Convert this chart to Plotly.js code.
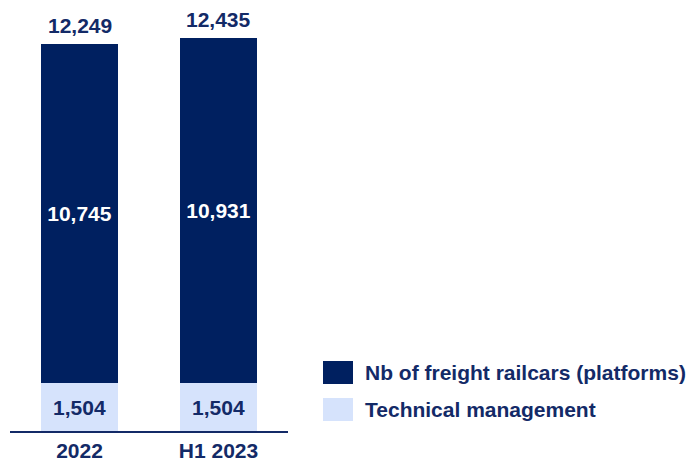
<!DOCTYPE html>
<html>
<head>
<meta charset="utf-8">
<script src="https://cdn.plot.ly/plotly-3.0.1.min.js"></script>
<style>html,body{margin:0;padding:0;background:#fff;}#chart{width:694px;height:460px;}</style>
</head>
<body>
<div id="chart"></div>
<script>
const categories = ['2022', 'H1 2023'];
const technicalManagement = [1504, 1504];
const freightRailcars = [10745, 10931];
const seriesNames = ['Nb of freight railcars (platforms)', 'Technical management'];

const DARK = '#002060';
const LIGHT = '#D6E3FC';
const TEXT = '#132A67';
const FONT = 'Liberation Sans, Arial, sans-serif';
const FS = 21;

const totals = categories.map((c, i) => technicalManagement[i] + freightRailcars[i]);
const fmt = v => v.toLocaleString('en-US');

const traces = [
  {
    type: 'bar', x: categories, y: technicalManagement, name: seriesNames[1],
    marker: {color: LIGHT}, width: 0.555,
    text: technicalManagement.map(fmt), textposition: 'inside', insidetextanchor: 'middle',
    textangle: 0, constraintext: 'none',
    textfont: {family: FONT, size: FS, color: TEXT, weight: 'bold'},
    hoverinfo: 'skip', showlegend: false
  },
  {
    type: 'bar', x: categories, y: freightRailcars, name: seriesNames[0],
    marker: {color: DARK}, width: 0.555,
    text: freightRailcars.map(fmt), textposition: 'inside', insidetextanchor: 'middle',
    textangle: 0, constraintext: 'none',
    textfont: {family: FONT, size: FS, color: '#ffffff', weight: 'bold'},
    hoverinfo: 'skip', showlegend: false
  }
];

const annotations = categories.map((c, i) => ({
  x: i, y: totals[i], xref: 'x', yref: 'y', text: fmt(totals[i]),
  showarrow: false, yanchor: 'bottom', yshift: 5,
  font: {family: FONT, size: FS, color: TEXT, weight: 'bold'}
}));

// custom legend
const legendColors = [DARK, LIGHT];
const legendY = [372.5, 409.5];
const shapes = [];
seriesNames.forEach((n, i) => {
  shapes.push({type: 'rect', xref: 'paper', yref: 'paper',
    x0: (323 - 10) / 278, x1: (353 - 10) / 278,
    y0: (431 - (legendY[i] + 11.5)) / 427, y1: (431 - (legendY[i] - 11.5)) / 427,
    fillcolor: legendColors[i], line: {width: 0}});
  annotations.push({xref: 'paper', yref: 'paper', x: (363 - 10) / 278, y: (431 - legendY[i]) / 427,
    xanchor: 'left', yanchor: 'middle', showarrow: false, text: n,
    font: {family: FONT, size: FS, color: TEXT, weight: 'bold'}});
});

const layout = {
  width: 694, height: 460,
  margin: {l: 10, r: 406, t: 4, b: 29},
  barmode: 'stack',
  showlegend: false,
  paper_bgcolor: '#ffffff', plot_bgcolor: '#ffffff',
  xaxis: {
    type: 'category', range: [-0.5, 1.5], showgrid: false, zeroline: false,
    showline: true, linecolor: TEXT, linewidth: 1.5,
    ticks: '', ticklabelstandoff: 0,
    tickfont: {family: FONT, size: FS, color: TEXT, weight: 'bold'}
  },
  yaxis: {range: [0, 13500], visible: false, showgrid: false, zeroline: false},
  annotations: annotations,
  shapes: shapes
};

Plotly.newPlot('chart', traces, layout, {displayModeBar: false, staticPlot: true});
</script>
</body>
</html>
